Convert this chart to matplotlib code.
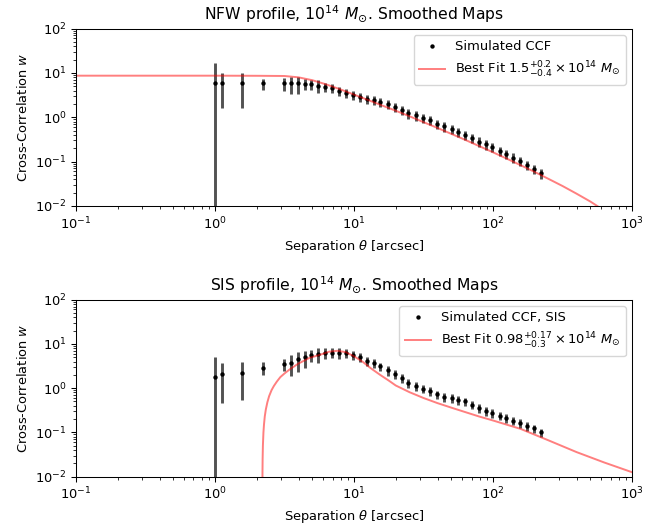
import matplotlib
matplotlib.use("Agg")
import matplotlib.pyplot as plt

# Angular separations of the CCF bins [arcsec]
theta = [1.0, 1.12, 1.57, 2.22, 3.14, 3.5, 3.95, 4.42, 4.93, 5.47, 6.15, 6.9,
         7.8, 8.8, 9.8, 11.0, 12.4, 13.9, 15.5, 17.6, 19.8, 22.0, 24.6, 27.9,
         31.3, 35.0, 39.4, 44.4, 50.4, 56.3, 62.9, 70.3, 79.3, 88.6, 98.9, 112,
         124, 139, 156, 175, 197, 220]

# NFW run: measured cross-correlation and its uncertainty
w_nfw = [5.8, 5.8, 5.8, 5.8, 5.8, 5.8, 5.8, 5.7, 5.5, 5.15, 4.73, 4.5,
         3.9, 3.47, 3.18, 2.82, 2.58, 2.4, 2.24, 2.0, 1.7, 1.45, 1.23, 1.11,
         0.955, 0.87, 0.71, 0.62, 0.545, 0.474, 0.40, 0.337, 0.28, 0.247, 0.218, 0.174,
         0.147, 0.123, 0.104, 0.084, 0.069, 0.055]
err_nfw = [10.6, 4.2, 4.2, 1.6, 1.8, 2.4, 2.4, 1.5, 1.4, 1.6, 1.1, 1.0,
           0.9, 0.8, 0.75, 0.65, 0.6, 0.55, 0.5, 0.45, 0.4, 0.33, 0.3, 0.27,
           0.22, 0.2, 0.17, 0.15, 0.13, 0.11, 0.1, 0.08, 0.07, 0.06, 0.05, 0.04,
           0.035, 0.03, 0.025, 0.02, 0.017, 0.014]

# SIS run: measured cross-correlation and its uncertainty
w_sis = [1.82, 2.06, 2.19, 2.9, 3.55, 3.8, 4.47, 5.0, 5.6, 5.9, 6.2, 6.3,
         6.3, 6.2, 5.6, 5.0, 4.2, 3.7, 3.09, 2.51, 2.09, 1.74, 1.32, 1.12,
         0.98, 0.85, 0.72, 0.63, 0.59, 0.54, 0.50, 0.42, 0.35, 0.305, 0.27, 0.24,
         0.21, 0.184, 0.161, 0.14, 0.124, 0.10]
err_sis = [3.2, 1.6, 1.65, 0.93, 1.1, 1.9, 2.2, 2.1, 1.7, 2.1, 1.7, 1.6,
           1.8, 1.5, 1.3, 1.1, 0.95, 0.85, 0.7, 0.6, 0.5, 0.4, 0.3, 0.26,
           0.22, 0.19, 0.16, 0.14, 0.13, 0.12, 0.11, 0.09, 0.08, 0.065, 0.06, 0.05,
           0.045, 0.04, 0.035, 0.03, 0.027, 0.022]

# Best-fit NFW model curve
nfw_fit_theta = [0.1, 1.0, 2.0, 3.16, 3.98, 5.01, 6.31, 7.94, 10.0, 12.6, 15.8,
                 20.0, 25.1, 31.6, 39.8, 50.1, 63.1, 79.4, 100, 126, 158, 200,
                 251, 316, 398, 501, 631, 794, 1000]
nfw_fit_w = [8.65, 8.65, 8.6, 8.51, 7.94, 6.84, 5.5, 4.27, 3.24, 2.45, 1.86,
             1.40, 1.05, 0.776, 0.575, 0.422, 0.309, 0.224, 0.162, 0.116, 0.083,
             0.0582, 0.0407, 0.0282, 0.019, 0.0126, 0.0079, 0.005, 0.0032]

# Best-fit SIS model curve
sis_fit_theta = [2.19, 2.195, 2.2, 2.21, 2.23, 2.25, 2.28, 2.32, 2.38, 2.45, 2.55,
                 2.65, 2.78, 2.95, 3.16, 3.47, 3.98, 4.79, 5.62, 6.61, 7.59, 8.71,
                 10.0, 11.5, 13.2, 15.4, 17.8, 19.95, 25.1, 31.6, 39.8, 50.1, 63.1,
                 79.4, 100, 158, 251, 398, 631, 1000]
sis_fit_w = [0.001, 0.0125, 0.025, 0.05, 0.1, 0.15, 0.23, 0.33, 0.48, 0.66, 0.9,
             1.12, 1.4, 1.78, 2.15, 2.7, 3.6, 4.85, 5.6, 6.68, 7.0, 6.53,
             5.25, 3.98, 2.82, 2.0, 1.48, 1.15, 0.81, 0.60, 0.46, 0.363, 0.288,
             0.229, 0.186, 0.12, 0.066, 0.036, 0.0209, 0.0126]

panels = [
    dict(title=r"NFW profile, $10^{14}$ $M_{\odot}$. Smoothed Maps",
         w=w_nfw, err=err_nfw, data_label="Simulated CCF",
         fit_x=nfw_fit_theta, fit_y=nfw_fit_w,
         fit_label=r"Best Fit $1.5^{+0.2}_{-0.4}\times10^{14}\ M_{\odot}$",
         rect=[0.1148, 0.6128, 0.84, 0.3336]),
    dict(title=r"SIS profile, $10^{14}$ $M_{\odot}$. Smoothed Maps",
         w=w_sis, err=err_sis, data_label="Simulated CCF, SIS",
         fit_x=sis_fit_theta, fit_y=sis_fit_w,
         fit_label=r"Best Fit $0.98^{+0.17}_{-0.3}\times10^{14}\ M_{\odot}$",
         rect=[0.1148, 0.104, 0.84, 0.3327]),
]

s = 0.936
plt.rcParams.update({
    "font.size": 10 * s,
    "axes.linewidth": 0.8 * s,
    "xtick.major.width": 0.8 * s, "ytick.major.width": 0.8 * s,
    "xtick.minor.width": 0.6 * s, "ytick.minor.width": 0.6 * s,
    "xtick.major.size": 3.5 * s, "ytick.major.size": 3.5 * s,
    "xtick.minor.size": 2 * s, "ytick.minor.size": 2 * s,
})

fig = plt.figure(figsize=(6.62, 5.32), dpi=100)
for p in panels:
    ax = fig.add_axes(p["rect"])
    ax.errorbar(theta, p["w"], yerr=p["err"], fmt="none",
                ecolor=(0, 0, 0, 0.68), elinewidth=2.1, capsize=0)
    ax.plot(theta, p["w"], "k.", markersize=4.3, label=p["data_label"])
    ax.plot(p["fit_x"], p["fit_y"], color="red", alpha=0.5, lw=1.5 * s,
            label=p["fit_label"])
    ax.set_xscale("log")
    ax.set_yscale("log")
    ax.set_xlim(0.1, 1000)
    ax.set_ylim(1e-2, 1e2)
    ax.set_title(p["title"], fontsize=12 * s)
    ax.set_xlabel(r"Separation $\theta$ [arcsec]")
    ax.set_ylabel(r"Cross-Correlation $w$")
    ax.legend(loc="upper right")

fig.savefig("out.png", dpi=100)
